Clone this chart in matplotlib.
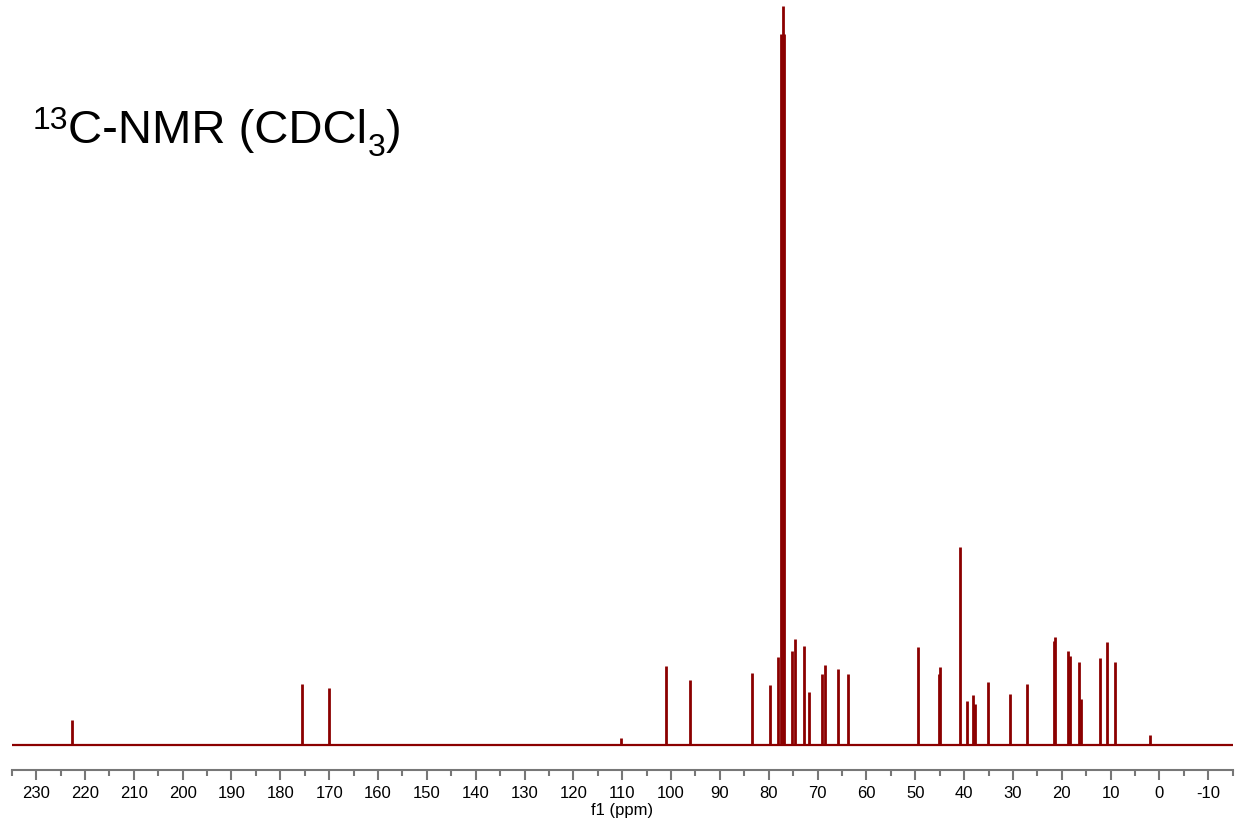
import matplotlib
matplotlib.use("Agg")
from matplotlib import pyplot as plt
from matplotlib.ticker import MultipleLocator

plt.rcParams["font.family"] = ["Liberation Sans", "DejaVu Sans"]
plt.rcParams["axes.unicode_minus"] = False

# peak positions (ppm) and heights
shifts = [222.6, 175.6, 170.1, 110.2, 101.0, 96.15, 83.5, 79.8, 78.0,
          77.48, 77.16, 76.84, 75.15, 74.66, 72.8, 71.7, 69.1, 68.5,
          65.8, 63.75, 49.5, 45.2, 44.9, 40.9, 39.3, 38.2, 37.8, 35.2,
          30.5, 27.2, 21.65, 21.3, 18.7, 18.3, 16.4, 16.1, 12.1, 10.7,
          9.1, 1.9]
heights = [25, 61, 57, 7, 79, 65, 72, 60, 88,
           711, 739, 711, 94, 106, 99, 53, 71, 80,
           76, 71, 98, 71, 78, 198, 44, 50, 41, 63,
           51, 61, 104, 108, 94, 89, 83, 46, 87, 103,
           83, 10]

color = "#8b0000"

fig = plt.figure(figsize=(12.54, 8.2), dpi=100)
ax = fig.add_axes([11.7 / 1254, 49 / 820, 1221 / 1254, 771 / 820])

ax.plot([235, -15], [0, 0], color=color, lw=1.6)
ax.vlines(shifts, 0, heights, color=color, lw=2)

ax.set_xlim(235, -15)
ax.set_ylim(-25, 746)

for s in ["top", "left", "right"]:
    ax.spines[s].set_visible(False)
ax.spines["bottom"].set_color("#777777")
ax.spines["bottom"].set_linewidth(1.5)
ax.set_yticks([])

ax.xaxis.set_major_locator(MultipleLocator(10))
ax.xaxis.set_minor_locator(MultipleLocator(5))
ax.tick_params(axis="x", which="major", length=7, width=1.5, color="#777777",
               labelsize=12, pad=4)
ax.tick_params(axis="x", which="minor", length=4, width=1.5, color="#777777")
ax.set_xticks(range(230, -11, -10))
ax.set_xlabel("f1 (ppm)", fontsize=12, labelpad=1)

# title built from pieces so the super/subscripts sit like the original
fig.canvas.draw()
renderer = fig.canvas.get_renderer()
y0 = 1 - 143 / 820
x = 33 / 1254
pieces = [("13", 23, 14), ("C-NMR (CDCl", 34, 0), ("3", 23, -13), (")", 34, 0)]
for txt, size, dy in pieces:
    t = fig.text(x, y0 + dy / 820, txt, fontsize=size, ha="left", va="baseline")
    bb = t.get_window_extent(renderer)
    x += bb.width / 1254

fig.savefig("out.png", dpi=100)
